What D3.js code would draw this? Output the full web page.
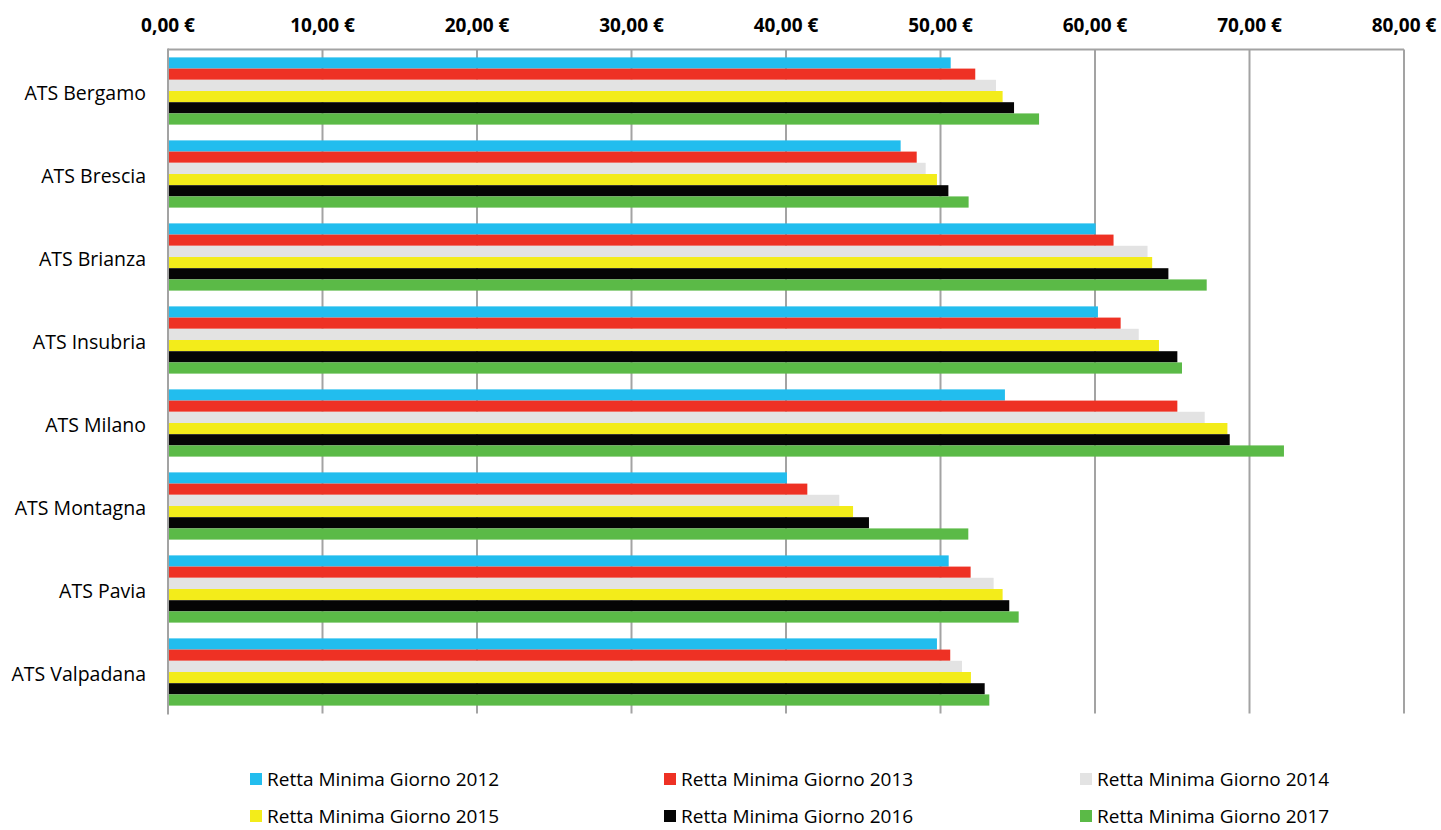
<!DOCTYPE html>
<html>
<head>
<meta charset="utf-8">
<script src="https://cdn.jsdelivr.net/npm/d3@7"></script>
<style>
  html, body { margin: 0; padding: 0; background: #fff; }
  svg text { font-family: "Open Sans", "Lato", sans-serif; fill: #000; }
</style>
</head>
<body>
<svg id="chart" width="1441" height="830"></svg>
<script>
const categories = ["ATS Bergamo", "ATS Brescia", "ATS Brianza", "ATS Insubria", "ATS Milano", "ATS Montagna", "ATS Pavia", "ATS Valpadana"];
const seriesNames = ["Retta Minima Giorno 2012", "Retta Minima Giorno 2013", "Retta Minima Giorno 2014", "Retta Minima Giorno 2015", "Retta Minima Giorno 2016", "Retta Minima Giorno 2017"];
const seriesColors = ["#22BDEE", "#EE3124", "#E3E3E3", "#F3EC1A", "#050505", "#5BBA47"];
const values2012 = [50.66, 47.42, 60.04, 60.19, 54.17, 40.06, 50.53, 49.77];
const values2013 = [52.25, 48.46, 61.20, 61.66, 65.33, 41.38, 51.95, 50.63];
const values2014 = [53.59, 49.04, 63.40, 62.83, 67.10, 43.45, 53.44, 51.39];
const values2015 = [54.02, 49.77, 63.70, 64.14, 68.57, 44.34, 54.02, 51.97];
const values2016 = [54.76, 50.51, 64.75, 65.33, 68.72, 45.37, 54.45, 52.86];
const values2017 = [56.38, 51.82, 67.23, 65.63, 72.23, 51.80, 55.06, 53.16];
const tickValues = [0, 10, 20, 30, 40, 50, 60, 70, 80];
const tickLabels = ["0,00 €", "10,00 €", "20,00 €", "30,00 €", "40,00 €", "50,00 €", "60,00 €", "70,00 €", "80,00 €"];

const allValues = [values2012, values2013, values2014, values2015, values2016, values2017];

const svg = d3.select("#chart");
const pLeft = 168, pRight = 1404, pTop = 49.5, pBottom = 713.5;

const x = d3.scaleLinear().domain([0, 80]).range([pLeft, pRight]);
const y = d3.scaleBand().domain(categories).range([pTop, pBottom]).paddingInner(0.19).paddingOuter(0.095);
const ys = d3.scaleBand().domain(seriesNames).range([0, y.bandwidth()]).padding(0);

// gridlines
svg.append("g").selectAll("line").data(tickValues.slice(1)).join("line")
  .attr("x1", d => x(d)).attr("x2", d => x(d))
  .attr("y1", pTop).attr("y2", pBottom)
  .attr("stroke", "#a3a3a3").attr("stroke-width", 2);

// bars
const gBars = svg.append("g");
seriesNames.forEach((s, si) => {
  gBars.append("g").selectAll("rect").data(categories).join("rect")
    .attr("x", x(0))
    .attr("y", c => y(c) + ys(s))
    .attr("width", (c, i) => x(allValues[si][i]) - x(0))
    .attr("height", ys.bandwidth())
    .attr("fill", seriesColors[si]);
});

// top axis line
svg.append("line").attr("x1", pLeft).attr("x2", pRight).attr("y1", pTop).attr("y2", pTop)
  .attr("stroke", "#a3a3a3").attr("stroke-width", 2);
// left axis line
svg.append("line").attr("x1", pLeft).attr("x2", pLeft).attr("y1", pTop - 1).attr("y2", pBottom + 1)
  .attr("stroke", "#a3a3a3").attr("stroke-width", 2);

// top tick labels
svg.append("g").selectAll("text").data(tickValues).join("text")
  .attr("x", d => x(d)).attr("y", 32)
  .attr("text-anchor", "middle")
  .attr("font-size", 19).attr("font-weight", "bold")
  .text((d, i) => tickLabels[i]);

// category labels
svg.append("g").selectAll("text").data(categories).join("text")
  .attr("x", 146).attr("y", c => y(c) + y.bandwidth() / 2 + 2)
  .attr("dy", "0.35em")
  .attr("text-anchor", "end")
  .attr("font-size", 19.5)
  .text(c => c);

// legend
const legendCols = [250, 664, 1080];
const legendRows = [779, 816];
const lg = svg.append("g");
seriesNames.forEach((s, i) => {
  const cx = legendCols[i % 3], cy = legendRows[Math.floor(i / 3)];
  lg.append("rect").attr("x", cx).attr("y", cy - 6).attr("width", 12).attr("height", 12).attr("fill", seriesColors[i]);
  lg.append("text").attr("x", cx + 17).attr("y", cy).attr("dy", "0.35em").attr("font-size", 19).text(s);
});
</script>
</body>
</html>
